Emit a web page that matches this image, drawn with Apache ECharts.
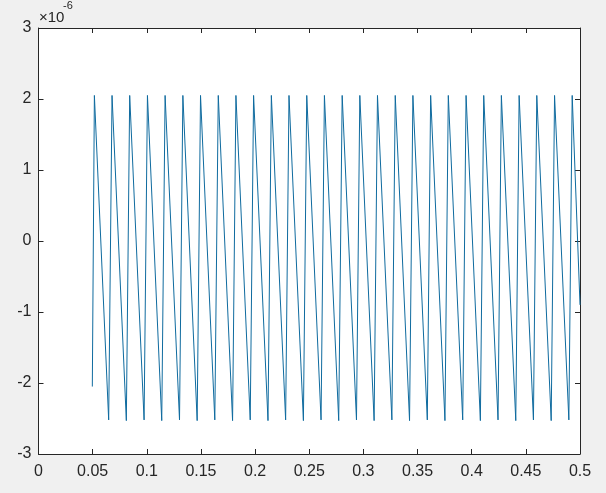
<!DOCTYPE html>
<html>
<head>
<meta charset="utf-8">
<script src="https://cdn.jsdelivr.net/npm/echarts@6/dist/echarts.min.js"></script>
<style>
html,body{margin:0;padding:0;background:#f0f0f0;}
#chart{width:606px;height:493px;}
</style>
</head>
<body>
<div id="chart"></div>
<script>
// Values of y are in units of 1e-6 (axis exponent label "×10^-6")
var startPoint = [0.0497, -2.05];
var peakTimes = [0.0516,0.0679,0.0842,0.1006,0.1169,0.1333,0.1496,0.1660,0.1823,0.1986,
                 0.2150,0.2313,0.2477,0.2640,0.2804,0.2967,0.3130,0.3294,0.3457,0.3621,
                 0.3784,0.3948,0.4111,0.4274,0.4438,0.4601,0.4765,0.4928];
var peakValues = [2.05,2.05,2.05,2.05,2.05,2.05,2.05,2.05,2.05,2.05,
                  2.05,2.05,2.05,2.05,2.05,2.05,2.05,2.05,2.05,2.05,
                  2.05,2.05,2.05,2.05,2.05,2.05,2.05,2.05];
var troughTimes = [0.0648,0.0811,0.0975,0.1138,0.1302,0.1465,0.1628,0.1792,0.1955,0.2119,
                   0.2282,0.2446,0.2609,0.2772,0.2936,0.3099,0.3263,0.3426,0.3590,0.3753,
                   0.3917,0.4080,0.4243,0.4407,0.4570,0.4734,0.4897];
var troughValues = [-2.52,-2.53,-2.52,-2.53,-2.52,-2.53,-2.52,-2.53,-2.52,-2.53,
                    -2.52,-2.53,-2.52,-2.53,-2.52,-2.53,-2.52,-2.53,-2.52,-2.53,
                    -2.52,-2.53,-2.52,-2.53,-2.52,-2.53,-2.52];
var endPoint = [0.5, -0.9];
var xTicks = [0,0.05,0.1,0.15,0.2,0.25,0.3,0.35,0.4,0.45,0.5];
var yTicks = [-3,-2,-1,0,1,2,3];

var data = [startPoint];
for (var i = 0; i < peakTimes.length; i++) {
  data.push([peakTimes[i], peakValues[i]]);
  if (i < troughTimes.length) data.push([troughTimes[i], troughValues[i]]);
}
data.push(endPoint);

var axisColor = '#262626';
var font = 'Arial';
var fs = 16;
function xAx(pos, showLabel) {
  return {
    type: 'value', position: pos, min: xTicks[0], max: xTicks[xTicks.length-1], interval: 0.05,
    axisLine: {show: true, onZero: false, lineStyle: {color: axisColor, width: 1}},
    axisTick: {show: true, inside: true, length: 5, lineStyle: {color: axisColor}},
    axisLabel: {show: showLabel, color: axisColor, fontSize: fs, fontFamily: font, margin: 10,
      formatter: function(v){ return String(+v.toFixed(2)); }},
    splitLine: {show: false}
  };
}
function yAx(pos, showLabel) {
  return {
    type: 'value', position: pos, min: yTicks[0], max: yTicks[yTicks.length-1], interval: 1,
    axisLine: {show: true, onZero: false, lineStyle: {color: axisColor, width: 1}},
    axisTick: {show: true, inside: true, length: 5, lineStyle: {color: axisColor}},
    axisLabel: {show: showLabel, color: axisColor, fontSize: fs, fontFamily: font, margin: 7},
    splitLine: {show: false}
  };
}

var chart = echarts.init(document.getElementById('chart'), null, {renderer: 'canvas'});
chart.setOption({
  animation: false,
  backgroundColor: '#f0f0f0',
  grid: {left: 38.5, right: 26, top: 28, bottom: 39, show: true, backgroundColor: '#ffffff', borderWidth: 0},
  xAxis: [xAx('bottom', true), xAx('top', false)],
  yAxis: [yAx('left', true), yAx('right', false)],
  graphic: [
    {type: 'text', left: 39, top: 10, style: {text: '×10', fill: axisColor, fontSize: 15, fontFamily: font}},
    {type: 'text', left: 63, top: 0, style: {text: '-6', fill: axisColor, fontSize: 11, fontFamily: font}}
  ],
  series: [{
    type: 'line', xAxisIndex: 0, yAxisIndex: 0, data: data,
    showSymbol: false, symbol: 'none',
    lineStyle: {color: '#0f6b9f', width: 1}
  }]
});
</script>
</body>
</html>
